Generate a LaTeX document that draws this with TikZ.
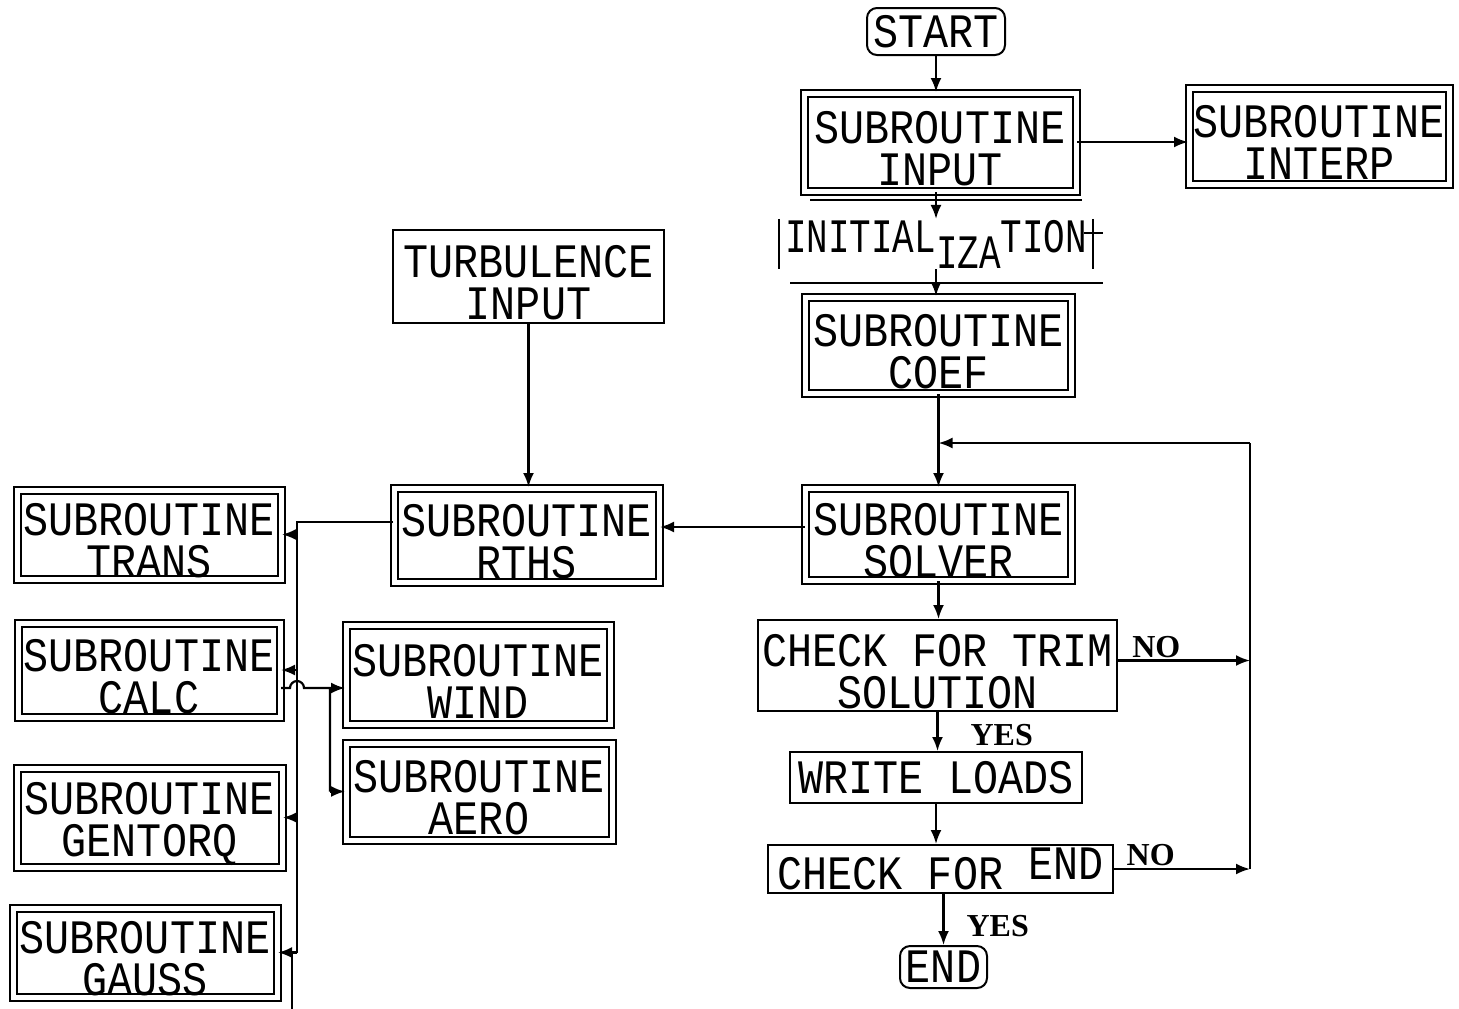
\documentclass[tikz,border=0pt]{standalone}
\usepackage{fontspec}
\usepackage{graphicx}
\setmainfont{Liberation Mono}[FakeStretch=0.87]
\newfontfamily\ynfont{Liberation Serif}
\usetikzlibrary{arrows.meta}

% two text lines, set a little low in the box
\newcommand{\twolines}[2]{\rule{0pt}{22.5pt}#1\\#2}

\tikzset{
  box/.style={draw, line width=1pt, inner sep=0pt, align=center,
    font=\fontsize{24}{21}\selectfont},
  subbox/.style={box, double, double distance=2.5pt},
  term/.style={box, rounded corners=5pt},
  wire/.style={line width=1.1pt},
  arr/.style={wire, -{Latex[length=7pt,width=5.5pt]}},
  yn/.style={font=\ynfont\bfseries\fontsize{16}{16}\selectfont, inner sep=1pt},
}

\begin{document}
\begin{tikzpicture}[x=0.5pt, y=-0.5pt]
\useasboundingbox (0,0) rectangle (1459,1008);

% main column
\node[term, minimum width=69pt, minimum height=23.5pt] (start) at (936,31.5) {START};
\node[subbox, minimum width=136pt, minimum height=49pt] (input) at (940,142) {\twolines{SUBROUTINE}{INPUT}};
\node[subbox, minimum width=130pt, minimum height=48pt] (interp) at (1319,136) {\twolines{SUBROUTINE}{INTERP}};
\node[box, draw=none, minimum width=156pt, minimum height=22pt] (init) at (936,244) {\scalebox{0.86}[1]{INITIAL\raisebox{-8pt}{IZA}TION}};
\node[subbox, minimum width=133pt, minimum height=48pt] (coef) at (938.5,345) {\twolines{SUBROUTINE}{COEF}};
\node[subbox, minimum width=133pt, minimum height=46pt] (solver) at (938.5,534) {\twolines{SUBROUTINE}{SOLVER}};
\node[box, minimum width=179.5pt, minimum height=45.5pt] (chktrim) at (937.5,665.5) {\twolines{CHECK FOR TRIM}{SOLUTION}};
\node[box, minimum width=146pt, minimum height=25.5pt] (write) at (936,777.5) {WRITE LOADS};
\node[box, minimum width=172.5pt, minimum height=24pt] (chkend) at (940.5,869) {CHECK FOR \raisebox{5pt}{END}};
\node[term, minimum width=43.5pt, minimum height=21pt] (end) at (943.5,967) {END};

% frame of the initialization step
\draw[wire] (init.north west) -- (init.south west);
\draw[wire] (init.north east) -- (init.south east);
\draw[wire] (810,200) -- (1082,200);
\draw[wire] (790,283) -- (1103,283);
\draw[wire] (1084,233) -- (1103,233);

% left part
\node[box, minimum width=135.5pt, minimum height=46.5pt] (turb) at (528.5,276.5) {\twolines{TURBULENCE}{INPUT}};
\node[subbox, minimum width=132.5pt, minimum height=47pt] (rths) at (526.5,535) {\twolines{SUBROUTINE}{RTHS}};
\node[subbox, minimum width=132pt, minimum height=44.5pt] (trans) at (149,534.5) {\twolines{SUBROUTINE}{TRANS}};
\node[subbox, minimum width=131pt, minimum height=47pt] (calc) at (149,670) {\twolines{SUBROUTINE}{CALC}};
\node[subbox, minimum width=132.5pt, minimum height=49.5pt] (gentorq) at (149.5,817.5) {\twolines{SUBROUTINE}{GENTORQ}};
\node[subbox, minimum width=132pt, minimum height=44.5pt] (gauss) at (145,952.5) {\twolines{SUBROUTINE}{GAUSS}};
\node[subbox, minimum width=132pt, minimum height=49.5pt] (wind) at (478,674.5) {\twolines{SUBROUTINE}{WIND}};
\node[subbox, minimum width=133pt, minimum height=48.5pt] (aero) at (479,791.5) {\twolines{SUBROUTINE}{AERO}};

% main flow
\draw[arr] (start) -- (start |- input.north);
\draw[arr] (input.east) -- (input.east -| interp.west);
\draw[arr] (input.south -| init) -- (init.north);
\draw[arr] (init.south) -- (init.south |- coef.north);
\draw[arr] (coef) -- (coef |- solver.north);
\draw[arr] (solver) -- (solver |- chktrim.north);
\draw[arr] (chktrim.south) -- node[yn, anchor=west, pos=.6, xshift=15pt] {YES} (chktrim.south |- write.north);
\draw[arr] (write) -- (write |- chkend.north);
\draw[arr] (chkend.south -| end) -- node[yn, anchor=west, pos=.62, xshift=10pt] {YES} (end.north);

% loop back to the solver
\coordinate (loop) at (1250,443);
\draw[wire] (chkend.east -| loop) -- (loop);
\draw[arr] (loop) -- (coef.south |- loop);
\draw[arr] ([yshift=2.5pt]chktrim.east) -- node[yn, above, pos=.29] {NO} ([yshift=2.5pt]chktrim.east -| loop);
\draw[arr] (chkend.east) -- node[yn, above, pos=.27] {NO} (chkend.east -| loop);

% calls from the solver and rths
\draw[arr] ([yshift=3.5pt]solver.west) -- ([yshift=3.5pt]solver.west -| rths.east);
\draw[arr] (turb) -- (turb |- rths.north);
\coordinate (bus) at (297,522);
\draw[wire] (rths.west |- bus) -- (bus) -- (bus |- gauss.east);
\foreach \n in {trans,calc,gentorq,gauss}
  \draw[arr] (bus |- \n.east) -- (\n.east);
\draw[wire] ([xshift=-2.5pt]bus |- gauss.east) -- ++(0,56);

% calc calls wind and aero
\coordinate (fork) at (330,688);
\draw[wire] (calc.east |- fork) -- ([xshift=-3.5pt]bus |- fork)
  arc[start angle=180, end angle=0, radius=3.5pt] -- (fork) -- (fork |- aero.west);
\draw[arr] (fork) -- (fork -| wind.west);
\draw[arr] (fork |- aero.west) -- (aero.west);
\end{tikzpicture}
\end{document}
